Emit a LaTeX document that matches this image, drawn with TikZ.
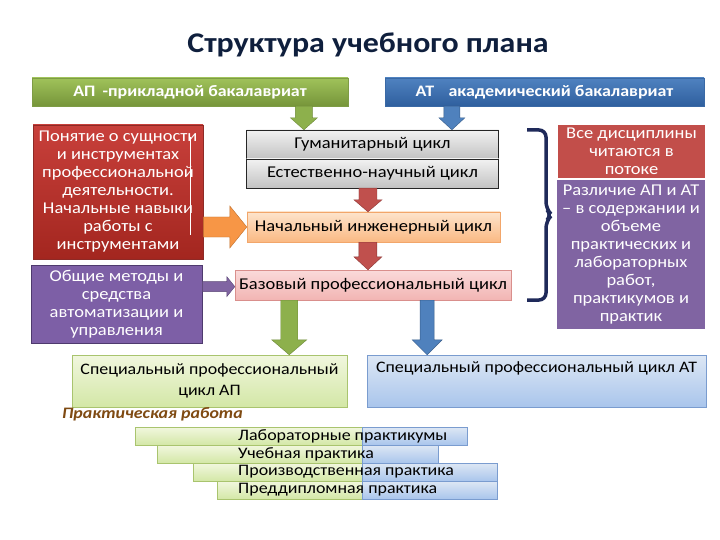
\documentclass[tikz,border=0pt]{standalone}
\usepackage{fontspec}
\setmainfont{Carlito}[FakeStretch=1.12]
\usetikzlibrary{calc}
\definecolor{titlec}{HTML}{0F1F3D}
\definecolor{apT}{HTML}{A0C25A}
\definecolor{apB}{HTML}{76953A}
\definecolor{apD}{HTML}{7E9C45}
\definecolor{atT}{HTML}{4F82C0}
\definecolor{atB}{HTML}{2F5F9E}
\definecolor{atD}{HTML}{3A69A5}
\definecolor{grT}{HTML}{F2F2F2}
\definecolor{grB}{HTML}{C2C2C2}
\definecolor{orT}{HTML}{FDE4CC}
\definecolor{orB}{HTML}{FAB983}
\definecolor{orD}{HTML}{F2A66A}
\definecolor{pkT}{HTML}{FADADA}
\definecolor{pkB}{HTML}{F2B5B3}
\definecolor{pkD}{HTML}{D98F8C}
\definecolor{rdT}{HTML}{C8403B}
\definecolor{rdB}{HTML}{A3261F}
\definecolor{rdD}{HTML}{8E2A26}
\definecolor{puF}{HTML}{7D5FA6}
\definecolor{puD}{HTML}{4E3A6E}
\definecolor{rrF}{HTML}{C24E4A}
\definecolor{rpF}{HTML}{8064A2}
\definecolor{gsT}{HTML}{F1F7DE}
\definecolor{gsB}{HTML}{D3E7A6}
\definecolor{gsD}{HTML}{A9C46E}
\definecolor{bsT}{HTML}{DDE7F4}
\definecolor{bsB}{HTML}{A9C5EC}
\definecolor{bsD}{HTML}{7A9CCF}
\definecolor{brc}{HTML}{1F2A5A}
\definecolor{pracc}{HTML}{7F4A12}
\definecolor{agF}{HTML}{8DB04C}
\definecolor{agD}{HTML}{6E8A3A}
\definecolor{abF}{HTML}{4F81BD}
\definecolor{abD}{HTML}{385D8A}
\definecolor{arF}{HTML}{C0504D}
\definecolor{arD}{HTML}{8C3836}
\definecolor{aoF}{HTML}{F79646}
\definecolor{aoD}{HTML}{C0702E}
\definecolor{apuF}{HTML}{8064A2}
\definecolor{apuD}{HTML}{5C4776}
% block arrows: start, end, style, shaft half, head half, head length
\newcommand\dnarrow[6]{\path[#3] let \p1=#1, \p2=#2 in
  (\x1-#4,\y1) -- (\x1+#4,\y1) -- (\x1+#4,\y2+#6) -- (\x1+#5,\y2+#6) -- (\x1,\y2)
  -- (\x1-#5,\y2+#6) -- (\x1-#4,\y2+#6) -- cycle;}
\newcommand\rtarrow[6]{\path[#3] let \p1=#1, \p2=#2 in
  (\x1,\y1+#4) -- (\x2-#6,\y1+#4) -- (\x2-#6,\y1+#5) -- (\x2,\y1)
  -- (\x2-#6,\y1-#5) -- (\x2-#6,\y1-#4) -- (\x1,\y1-#4) -- cycle;}
\begin{document}
\begin{tikzpicture}[x=1pt,y=-1pt,
  every node/.style={inner sep=2pt, align=center},
  titlestyle/.style={font=\fontsize{28.5}{32}\selectfont\bfseries, text=titlec},
  hdr/.style={text=white, font=\fontsize{16}{18}\selectfont\bfseries, minimum height=28pt},
  body/.style={font=\fontsize{16.5}{18}\selectfont},
  graybox/.style={body, draw=black!85, top color=grT, bottom color=grB, minimum width=252pt, minimum height=29pt},
  darkbox/.style={font=\fontsize{16.5}{18}\selectfont, text=white, line width=0.8pt},
  spec/.style={font=\fontsize{16}{21}\selectfont, minimum height=52pt},
  bartxt/.style={font=\fontsize{16}{17}\selectfont, inner sep=0pt},
  gbar/.style={draw=gsD, top color=gsT, bottom color=gsB, minimum height=18pt, inner sep=0pt},
  bbar/.style={draw=bsD, top color=bsT, bottom color=bsB, minimum height=18pt, inner sep=0pt},
  garr/.style={fill=agF, draw=agD},
  barr/.style={fill=abF, draw=abD},
  rarr/.style={fill=arF, draw=arD},
  oarr/.style={fill=aoF, draw=aoD},
  parr/.style={fill=apuF, draw=apuD},
  bracestyle/.style={draw=brc, line width=3.5pt, rounded corners=7pt}
]
\useasboundingbox[fill=white] (0,0) rectangle (720,540);

\node[titlestyle] (title) at (368,45) {Структура учебного плана};

\node[hdr, top color=apT, bottom color=apB, draw=apD, minimum width=316pt] (ap) at (190,92)
  {АП\hspace{0.45em}-прикладной бакалавриат};
\node[hdr, top color=atT, bottom color=atB, draw=atD, minimum width=319pt] (at) at (544.5,92)
  {АТ\hspace{0.9em}академический бакалавриат};

\node[graybox] (hum) at (372.5,144.5) {Гуманитарный цикл};
\node[graybox] (nat) at (372.5,173.5) {Естественно-научный цикл};
\node[body, draw=orD, top color=orT, bottom color=orB, minimum width=253pt, minimum height=30pt] (eng) at (373.5,227)
  {Начальный инженерный цикл};
\node[body, draw=pkD, top color=pkT, bottom color=pkB, minimum width=276pt, minimum height=30pt] (base) at (373,285)
  {Базовый профессиональный цикл};

\node[darkbox, draw=rdD, top color=rdT, bottom color=rdB, minimum width=170pt, minimum height=134pt] (red) at (118,192)
  {Понятие о сущности\\и инструментах\\профессиональной\\деятельности.\\Начальные навыки\\работы с\\инструментами};
\draw[white, line width=0.6pt] ($(red.north east)+(-13,12)$) -- ($(red.south east)+(-13,-24)$);
\node[darkbox, draw=puD, fill=puF, minimum width=171pt, minimum height=78pt] (pur) at (116.5,304)
  {Общие методы и\\средства\\автоматизации и\\управления};

\node[darkbox, fill=rrF, minimum width=147pt, minimum height=53pt] (rred) at (631.5,151.5)
  {Все дисциплины\\читаются в\\потоке};
\node[darkbox, fill=rpF, minimum width=148pt, minimum height=149pt] (rpur) at (631,254.5)
  {Различие АП и АТ\\– в содержании и\\объеме\\практических и\\лабораторных\\работ,\\практикумов и\\практик};

\draw[bracestyle] (527,130) -- (546,130) -- (546,209) -- (552,215) -- (546,221) -- (546,300) -- (527,300);

\node[spec, draw=gsD, top color=gsT, bottom color=gsB, minimum width=275pt] (specap) at (209.5,381)
  {Специальный профессиональный\\цикл АП};
\node[spec, draw=bsD, top color=bsT, bottom color=bsB, minimum width=339pt] (specat) at (536.5,381)
  {Специальный профессиональный цикл АТ\\\strut};

\node[font=\fontsize{16}{18}\selectfont\bfseries\itshape, text=pracc, anchor=west, inner sep=0pt] (prac) at (62,414) {Практическая работа};

\node[gbar, anchor=north west, minimum width=227pt] (b1g) at (135,427) {};
\node[bbar, anchor=north west, minimum width=105pt] (b1b) at (b1g.north east) {};
\node[gbar, anchor=north west, minimum width=205pt] (b2g) at (157,445) {};
\node[bbar, anchor=north west, minimum width=76pt] (b2b) at (b2g.north east) {};
\node[gbar, anchor=north west, minimum width=169pt] (b3g) at (193,463) {};
\node[bbar, anchor=north west, minimum width=135pt] (b3b) at (b3g.north east) {};
\node[gbar, anchor=north west, minimum width=145pt] (b4g) at (217,481) {};
\node[bbar, anchor=north west, minimum width=135pt] (b4b) at (b4g.north east) {};
\node[bartxt, anchor=west] (t1) at (238,436) {Лабораторные практикумы};
\node[bartxt, anchor=west] (t2) at (238,454) {Учебная практика};
\node[bartxt, anchor=west] (t3) at (238,472) {Производственная практика};
\node[bartxt, anchor=west] (t4) at (238,490) {Преддипломная практика};

% block arrows
\dnarrow{($(ap.south west)!0.86!(ap.south east)$)}{(hum.north)}{garr}{8.5pt}{13.5pt}{12pt}
\dnarrow{($(at.south west)!0.21!(at.south east)$)}{(hum.north)}{barr}{8pt}{13pt}{12pt}
\dnarrow{($(nat.south west)!0.482!(nat.south east)$)}{(eng.north)}{rarr}{9pt}{14pt}{12pt}
\dnarrow{($(eng.south west)!0.478!(eng.south east)$)}{(base.north)}{rarr}{9pt}{14pt}{13pt}
\dnarrow{($(base.south west)!0.197!(base.south east)$)}{(specap.north)}{garr}{8.5pt}{17.5pt}{15pt}
\dnarrow{($(base.south west)!0.696!(base.south east)$)}{(specat.north)}{barr}{7pt}{15pt}{15pt}
\rtarrow{(red.east |- eng.west)}{(eng.west)}{oarr}{10pt}{21pt}{17pt}
\rtarrow{($(pur.south east)!0.72!(pur.north east)$)}{(base.west)}{parr}{5pt}{10pt}{8pt}
\end{tikzpicture}
\end{document}
